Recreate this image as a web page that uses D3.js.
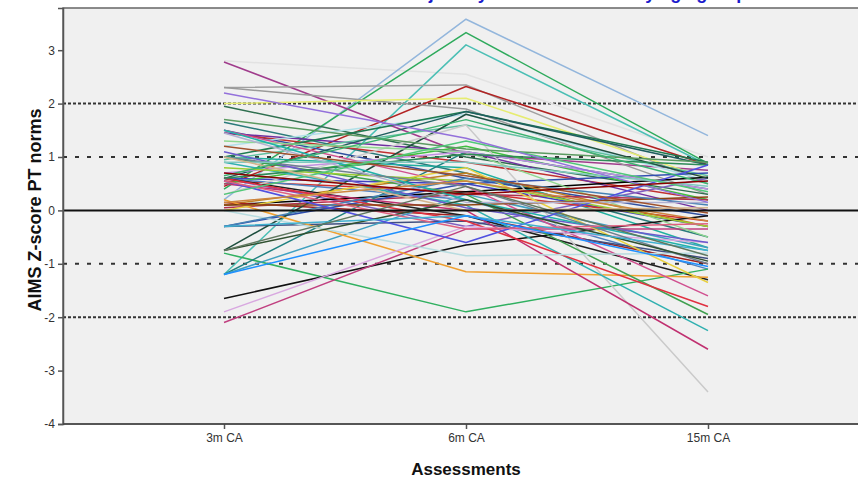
<!DOCTYPE html>
<html>
<head>
<meta charset="utf-8">
<script src="https://cdn.jsdelivr.net/npm/d3@7"></script>
<style>
  body { margin: 0; background: #fff; }
  svg { display: block; font-family: Arial, "Liberation Sans", sans-serif; }
</style>
</head>
<body>
<div id="chart"></div>
<script>
// categories on the x axis
const categories = ['3m CA', '6m CA', '15m CA'];
const yTicks = [-4, -3, -2, -1, 0, 1, 2, 3];
const refDense = [2, -2];
const refSparse = [1, -1];

// one row per child: z-score at 3m, 6m, 15m
const scores = [
  [2.8, 2.55, 1.0], [0.2, 3.58, 1.4], [0.4, 3.33, 0.88], [-1.2, 3.1, 0.85],
  [2.78, 1.05, 0.75], [2.3, 2.35, 0.5], [0.45, 2.32, 0.85], [2.3, 1.9, 0.3],
  [2.0, 2.1, 0.6], [1.95, 1.0, 0.3], [1.65, 0.7, -0.5], [1.5, 0.6, -0.1],
  [1.45, 0.9, 0.2], [1.45, 1.1, 0.0], [1.2, 1.8, 0.55], [1.0, 1.85, 0.9],
  [1.0, 0.8, -0.7], [0.95, 1.6, 0.65], [0.6, 1.85, 0.85], [0.6, 0.5, -0.3],
  [0.6, -0.3, 0.6], [0.55, 0.35, -0.2], [0.5, 1.2, 0.2], [0.6, 0.2, -1.1],
  [0.1, 0.35, 0.62], [0.1, 0.7, -0.3], [0.15, -0.1, -1.0], [0.05, 0.3, 0.2],
  [0.6, -0.1, -1.3], [-0.3, 0.5, 0.7], [-0.3, -0.2, -0.9], [-0.75, 1.8, 0.6],
  [-0.8, -1.9, -1.1], [-1.2, 1.1, 0.4], [-1.2, 0.3, -0.7], [-1.65, -0.65, -0.1],
  [-2.1, -0.35, -0.35], [0.2, -1.15, -1.25], [0.3, 1.6, -3.4], [0.5, 0.0, -2.6],
  [0.9, 0.1, -2.25], [1.0, 0.3, -1.95], [0.6, -0.2, -1.8], [1.5, 0.45, -1.6],
  [0.0, 0.8, -1.35], [1.3, 1.1, -0.5], [0.7, 1.1, 0.4], [-1.9, -0.3, -0.6],
  [0.0, -0.85, -0.8], [1.1, 0.05, -0.6], [0.8, 0.55, -0.3], [0.1, 0.1, 0.25],
  [1.5, 0.2, -0.75], [0.6, 1.05, 0.85], [-0.3, 0.6, 0.1], [1.7, 1.15, 0.9],
  [1.0, 0.45, -1.0], [0.55, -0.6, 0.85], [1.45, 0.15, 0.15], [0.9, 0.9, 0.45],
  [-0.75, 0.2, -0.95], [0.55, -0.35, -0.25], [1.2, 0.65, -0.05], [0.3, 1.3, 0.35],
  [-0.3, -0.1, -0.75], [1.0, 0.0, 0.05], [0.65, 1.7, 0.5], [2.2, 1.35, 0.15],
  [0.15, 0.55, -0.2], [-1.2, -0.1, -1.05], [0.7, 0.3, 0.55], [-0.75, 0.45, -0.85]
];

const lineColors = [
  '#e2e2e2', '#93b6dc', '#2eaa5c', '#4bbfb5',
  '#a03c8c', '#a0a0a0', '#b22222', '#9a9a9a',
  '#e6ec70', '#2f6f4f', '#2a7a7a', '#3050a0',
  '#c03030', '#7030a0', '#b0e0e8', '#1e7a50',
  '#20b0a0', '#60c0a0', '#1f5f5f', '#4040c0',
  '#8060c0', '#d03030', '#40c040', '#5080c0',
  '#000000', '#c08020', '#a02020', '#b03050',
  '#202020', '#3050b0', '#405080', '#1f4f3f',
  '#30b060', '#208080', '#40a0c0', '#101010',
  '#c04080', '#f0a030', '#cacaca', '#c03070',
  '#30b0b0', '#40a050', '#e03040', '#d05090',
  '#e8d040', '#90d890', '#c090e0', '#d8a8e0',
  '#b8dce0', '#6a5acd', '#9acd32', '#8b4513',
  '#20b2aa', '#2e8b57', '#4682b4', '#5a9a60',
  '#708090', '#5050e0', '#b0b0d0', '#80c8c0',
  '#305030', '#e06080', '#a0522d', '#50c878',
  '#40b0d0', '#d2b48c', '#3cb371', '#9370db',
  '#cd853f', '#1e90ff', '#8b0000', '#607860'
];

const W = 858, H = 481;
const plotLeft = 63, plotTop = 8, plotBottom = 424, plotRight = 880;

const svg = d3.select('#chart').append('svg')
  .attr('width', W)
  .attr('height', H);

const x = d3.scalePoint()
  .domain(categories)
  .range([224, 708]);

const y = d3.scaleLinear()
  .domain([-4, 3.79])
  .range([plotBottom, plotTop]);

// plot background
svg.append('rect')
  .attr('x', plotLeft).attr('y', plotTop)
  .attr('width', plotRight - plotLeft).attr('height', plotBottom - plotTop)
  .attr('fill', '#f0f0f0')
  .attr('stroke', '#666')
  .attr('stroke-width', 1.5);

// title, cropped at the top edge as in the source image
svg.append('text')
  .attr('x', 532).attr('y', -1)
  .attr('text-anchor', 'middle')
  .attr('fill', '#1a1acc')
  .style('font-size', '18px')
  .style('font-weight', 'bold')
  .text('Individual trajectory of AIMS Z-score by age group');

// reference lines
const g = svg.append('g');
g.selectAll('.dense').data(refDense).enter().append('line')
  .attr('x1', plotLeft).attr('x2', W)
  .attr('y1', d => y(d)).attr('y2', d => y(d))
  .attr('stroke', '#333').attr('stroke-width', 2)
  .attr('stroke-dasharray', '3,2');
g.selectAll('.sparse').data(refSparse).enter().append('line')
  .attr('x1', plotLeft).attr('x2', W)
  .attr('y1', d => y(d)).attr('y2', d => y(d))
  .attr('stroke', '#333').attr('stroke-width', 2)
  .attr('stroke-dasharray', '4,8');

// individual lines
const line = d3.line()
  .x((d, i) => x(categories[i]))
  .y(d => y(d));

svg.append('g').selectAll('path')
  .data(scores)
  .enter().append('path')
  .attr('d', line)
  .attr('fill', 'none')
  .attr('stroke', (d, i) => lineColors[i % lineColors.length])
  .attr('stroke-width', 1.5)
  .attr('stroke-linejoin', 'round');

// zero line on top
svg.append('line')
  .attr('x1', plotLeft).attr('x2', W)
  .attr('y1', y(0)).attr('y2', y(0))
  .attr('stroke', '#111').attr('stroke-width', 2);

// axes
const yAxis = svg.append('g')
  .attr('transform', `translate(${plotLeft},0)`)
  .call(d3.axisLeft(y).tickValues(yTicks).tickSize(5).tickPadding(3).tickFormat(d => String(d)));
yAxis.select('.domain').attr('stroke', '#555').attr('stroke-width', 1.5);
yAxis.selectAll('.tick line').attr('stroke', '#555').attr('stroke-width', 1.5);
yAxis.selectAll('text').attr('fill', '#333').style('font-size', '12px');

const xAxis = svg.append('g')
  .attr('transform', `translate(0,${plotBottom})`)
  .call(d3.axisBottom(x).tickSize(5).tickPadding(4));
xAxis.select('.domain').remove();
xAxis.selectAll('.tick line').attr('stroke', '#555').attr('stroke-width', 1.5);
xAxis.selectAll('text').attr('fill', '#333').style('font-size', '12px');

svg.append('line')
  .attr('x1', plotLeft).attr('x2', W)
  .attr('y1', plotBottom).attr('y2', plotBottom)
  .attr('stroke', '#444').attr('stroke-width', 1.5);

// axis titles
svg.append('text')
  .attr('x', 466).attr('y', 475)
  .attr('text-anchor', 'middle')
  .attr('fill', '#111')
  .style('font-size', '17px')
  .style('font-weight', 'bold')
  .text('Assessments');

svg.append('text')
  .attr('transform', 'translate(41,210) rotate(-90)')
  .attr('text-anchor', 'middle')
  .attr('fill', '#111')
  .style('font-size', '18px')
  .style('font-weight', 'bold')
  .text('AIMS Z-score PT norms');
</script>
</body>
</html>
